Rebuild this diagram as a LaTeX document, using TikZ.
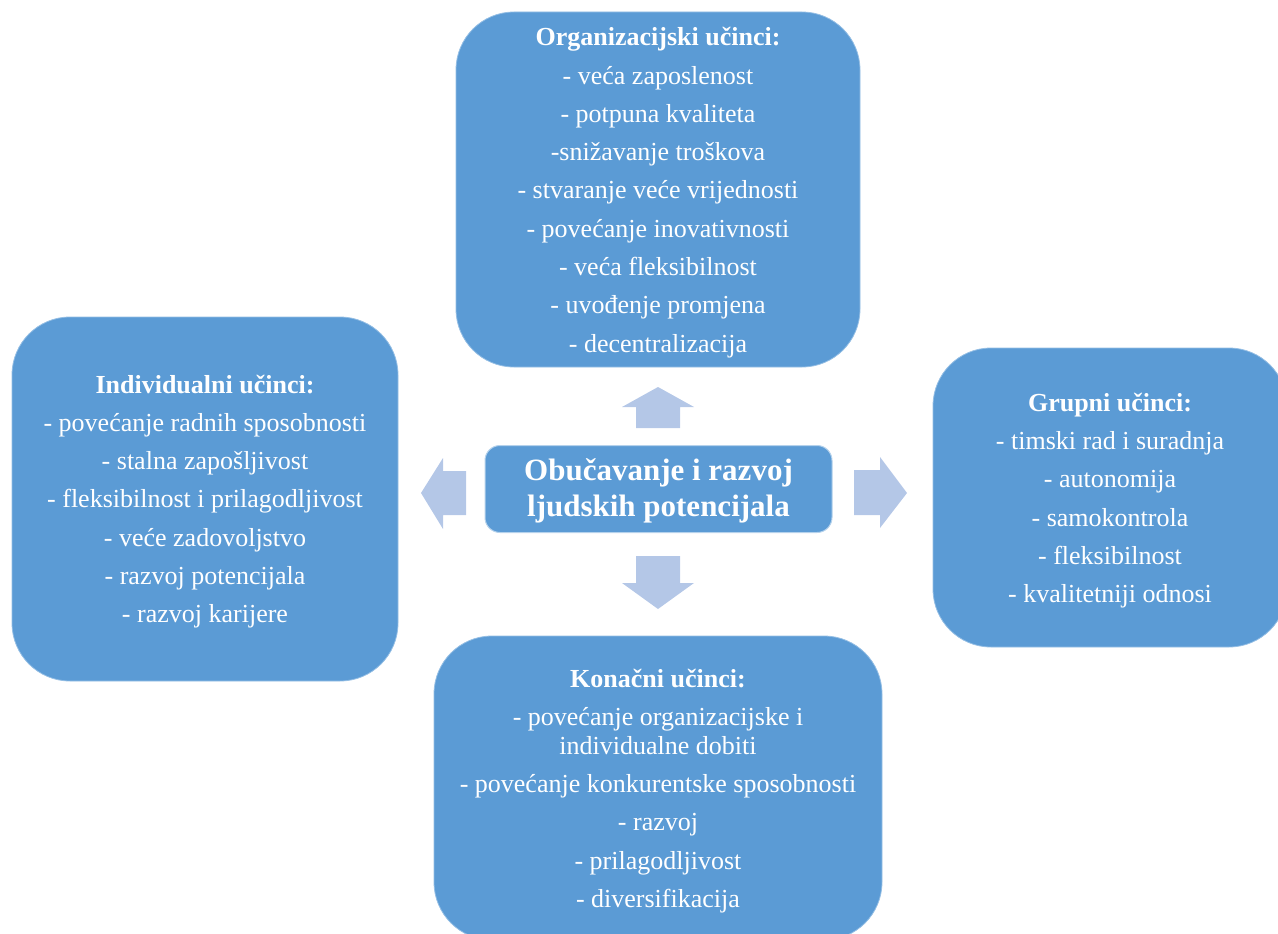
\documentclass[tikz,border=0pt]{standalone}
\usepackage{fontspec}
\setmainfont{Liberation Serif}
\definecolor{boxblue}{HTML}{5B9BD5}
\definecolor{arrowblue}{HTML}{B4C7E7}
\begin{document}
\begin{tikzpicture}[x=1pt,y=-1pt,
  bigbox/.style={rectangle,fill=boxblue,draw=white!35!boxblue,line width=0.8pt,
    rounded corners=58pt,inner sep=0pt},
  boxtext/.style={inner sep=0pt,align=center,text=white,
    font=\fontsize{26}{38.3}\selectfont},
  hubbox/.style={rectangle,fill=boxblue,draw=white!55!boxblue,line width=1pt,
    rounded corners=15pt,inner sep=0pt,
    minimum width=347pt,minimum height=87pt},
  hubtext/.style={inner sep=0pt,align=center,text=white,
    font=\fontsize{31}{36}\selectfont\bfseries},
  blockarrow/.style={fill=arrowblue}]
\useasboundingbox (0,0) rectangle (1278,934);
\begin{scope}
\clip (0,0) rectangle (1278,934);
% central node
\node[hubbox] (hub) at (658.5,489) {};
\node[hubtext] (hubtxt) at ([yshift=-2pt]hub.center) {Obučavanje i razvoj\\ljudskih potencijala};
% top box
\node[bigbox,minimum width=404pt,minimum height=355pt] (org) at (658,189.5) {};
\node[boxtext] (orgtxt) at ([yshift=-3pt]org.center)
 {\textbf{Organizacijski učinci:}\\
  - veća zaposlenost\\
  - potpuna kvaliteta\\
  -snižavanje troškova\\
  - stvaranje veće vrijednosti\\
  - povećanje inovativnosti\\
  - veća fleksibilnost\\
  - uvođenje promjena\\
  - decentralizacija};
% left box
\node[bigbox,minimum width=386pt,minimum height=364pt] (ind) at (205,499) {};
\node[boxtext] (indtxt) at ([yshift=-2.5pt]ind.center)
 {\textbf{Individualni učinci:}\\
  - povećanje radnih sposobnosti\\
  - stalna zapošljivost\\
  - fleksibilnost i prilagodljivost\\
  - veće zadovoljstvo\\
  - razvoj potencijala\\
  - razvoj karijere};
% right box
\node[bigbox,minimum width=354pt,minimum height=299pt] (grp) at (1110,497.5) {};
\node[boxtext] (grptxt) at ([yshift=-3pt]grp.center)
 {\textbf{Grupni učinci:}\\
  - timski rad i suradnja\\
  - autonomija\\
  - samokontrola\\
  - fleksibilnost\\
  - kvalitetniji odnosi};
% bottom box
\node[bigbox,minimum width=448pt,minimum height=304pt] (kon) at (658,788) {};
\node[boxtext] (kontxt) at ([yshift=-3pt]kon.center)
 {\textbf{Konačni učinci:}\\
  - povećanje organizacijske i\\[-10pt]
  individualne dobiti\\
  - povećanje konkurentske sposobnosti\\
  - razvoj\\
  - prilagodljivost\\
  - diversifikacija};
\end{scope}
% block arrows
\fill[blockarrow] (636,428) -- (636,407) -- (622,407) -- (658,387) -- (694,407)
  -- (680,407) -- (680,428) -- cycle;
\fill[blockarrow] (636,556) -- (636,583) -- (622,583) -- (658,609) -- (694,583)
  -- (680,583) -- (680,556) -- cycle;
\fill[blockarrow] (466,471) -- (443,471) -- (443,458) -- (421,493) -- (443,529)
  -- (443,515) -- (466,515) -- cycle;
\fill[blockarrow] (854,470) -- (880,470) -- (880,457) -- (907,493) -- (880,528)
  -- (880,515) -- (854,515) -- cycle;
\end{tikzpicture}
\end{document}
